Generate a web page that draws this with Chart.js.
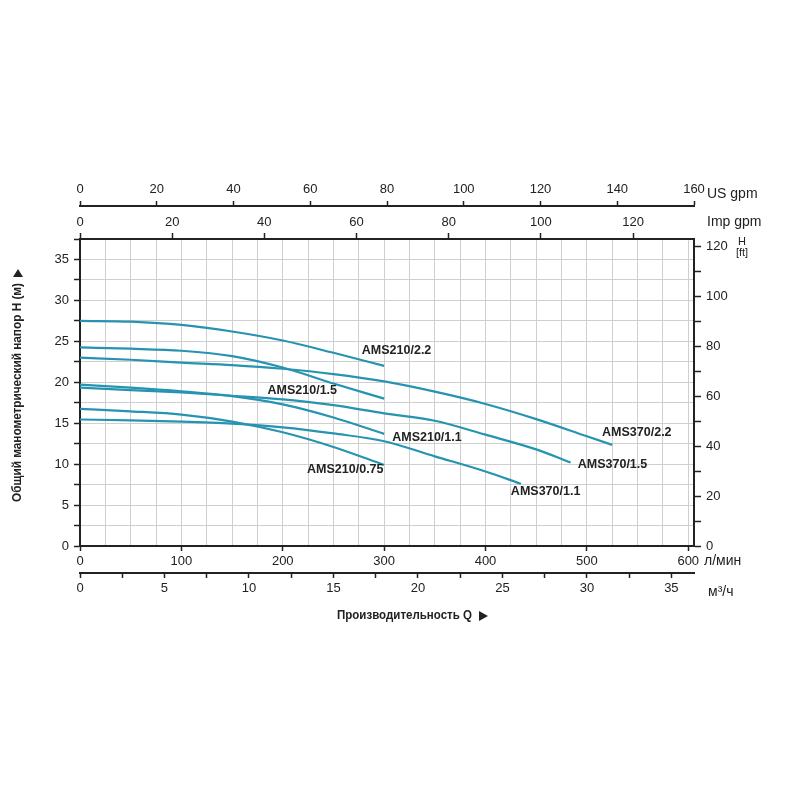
<!DOCTYPE html>
<html>
<head>
<meta charset="utf-8">
<script src="https://cdn.jsdelivr.net/npm/chart.js@4.4.0/dist/chart.umd.min.js"></script>
<style>
  body { margin: 0; background: #fff; }
</style>
</head>
<body>
<canvas id="chart" width="800" height="800"></canvas>
<script>
// pump curves: flow Q in l/min, head H in m
const q210 = [0, 50, 100, 150, 200, 250, 300];
const h210_22 = [27.5, 27.4, 27.0, 26.2, 25.1, 23.6, 22.0];
const h210_15 = [24.25, 24.1, 23.85, 23.2, 21.8, 19.85, 18.0];
const h210_11 = [19.7, 19.35, 18.9, 18.3, 17.3, 15.7, 13.7];
const h210_075 = [16.75, 16.45, 16.05, 15.2, 13.9, 12.1, 9.9];

const q370_22 = [0, 50, 100, 150, 200, 250, 300, 350, 400, 450, 500, 525];
const h370_22 = [23.0, 22.75, 22.4, 22.1, 21.65, 21.0, 20.1, 18.85, 17.35, 15.5, 13.4, 12.35];
const q370_15 = [0, 50, 100, 150, 200, 250, 300, 350, 400, 450, 484];
const h370_15 = [19.35, 19.05, 18.75, 18.35, 17.9, 17.2, 16.2, 15.3, 13.6, 11.8, 10.2];
const q370_11 = [0, 50, 100, 150, 200, 250, 300, 350, 400, 435];
const h370_11 = [15.45, 15.35, 15.2, 14.95, 14.5, 13.75, 12.8, 10.95, 9.1, 7.6];

const models = ['AMS210/2.2', 'AMS210/1.5', 'AMS210/1.1', 'AMS210/0.75', 'AMS370/2.2', 'AMS370/1.5', 'AMS370/1.1'];
const curves = [
  [q210, h210_22], [q210, h210_15], [q210, h210_11], [q210, h210_075],
  [q370_22, h370_22], [q370_15, h370_15], [q370_11, h370_11]
];

// axis ranges and unit conversions
const usMax = 160;
const LMIN_PER_M3H = 1000 / 60;
const LMIN_PER_USGPM = 3.78541;
const LMIN_PER_IMPGPM = 4.54609;
const FT_PER_M = 3.28084;
const qMax = usMax * LMIN_PER_USGPM;   // ~605.7 l/min
const hMax = 37.5;

const ink = '#222';
const gridGray = '#cfcfcf';
const lineBlue = 'rgb(38,148,177)';
const tickFont = { family: 'Liberation Sans, Arial, sans-serif', size: 13 };
const noTick = 'rgba(0,0,0,0)';

// where each model name is written, in l/min and m
const nameAt = [[278, 23.9], [185, 19.0], [308, 13.3], [224, 9.3], [515, 13.8], [491, 10.0], [425, 6.6]];

const datasets = curves.map((c, i) => ({
  label: models[i],
  data: c[0].map((q, j) => ({ x: q, y: c[1][j] })),
  borderColor: lineBlue,
  borderWidth: 2.2,
  pointRadius: 0,
  fill: false,
  cubicInterpolationMode: 'monotone',
  xAxisID: 'x',
  yAxisID: 'y'
}));

function every(step) {
  return v => (Math.abs(v / step - Math.round(v / step)) < 1e-6 ? String(Math.round(v)) : '');
}

// bold condensed-looking text: squeeze a normal bold face to the wanted length
function fitText(ctx, text, x, y, width) {
  ctx.save();
  ctx.font = 'bold 12px Liberation Sans, Arial, sans-serif';
  const k = width / ctx.measureText(text).width;
  ctx.translate(x, y);
  ctx.scale(k, 1);
  ctx.fillText(text, 0, 0);
  ctx.restore();
}

const textPlugin = {
  id: 'texts',
  afterDraw(chart) {
    const ctx = chart.ctx;
    const xs = chart.scales.x, ys = chart.scales.y;
    ctx.save();
    ctx.fillStyle = ink;

    // model names
    ctx.font = 'bold 12.5px Liberation Sans, Arial, sans-serif';
    ctx.textAlign = 'left';
    ctx.textBaseline = 'middle';
    models.forEach((m, i) => {
      ctx.fillText(m, xs.getPixelForValue(nameAt[i][0]), ys.getPixelForValue(nameAt[i][1]));
    });

    // unit labels at the axis ends
    ctx.font = '14px Liberation Sans, Arial, sans-serif';
    ctx.fillText('US gpm', 707, 194);
    ctx.fillText('Imp gpm', 707, 222);
    ctx.fillText('л/мин', 704, 561);
    ctx.fillText('м³/ч', 708, 592);
    ctx.font = '11px Liberation Sans, Arial, sans-serif';
    ctx.textAlign = 'center';
    ctx.fillText('H', 742, 242);
    ctx.fillText('[ft]', 742, 253);

    // bottom title
    ctx.textAlign = 'left';
    fitText(ctx, 'Производительность Q', 337, 616, 135);
    ctx.beginPath();
    ctx.moveTo(479, 611); ctx.lineTo(488, 616); ctx.lineTo(479, 621); ctx.closePath();
    ctx.fill();

    // left title, rotated
    ctx.translate(18, 502);
    ctx.rotate(-Math.PI / 2);
    fitText(ctx, 'Общий манометрический напор H (м)', 0, 0, 219);
    ctx.beginPath();
    ctx.moveTo(225, -5); ctx.lineTo(233, 0); ctx.lineTo(225, 5); ctx.closePath();
    ctx.fill();
    ctx.restore();
  }
};

new Chart(document.getElementById('chart'), {
  type: 'line',
  data: { datasets: datasets },
  plugins: [textPlugin],
  options: {
    responsive: false,
    animation: false,
    layout: { padding: 0 },
    plugins: { legend: { display: false }, tooltip: { enabled: false } },
    scales: {
      x: {
        type: 'linear', position: 'bottom', min: 0, max: qMax,
        afterFit: s => { s.height = 27; },
        ticks: { stepSize: 25, includeBounds: false, autoSkip: false, maxRotation: 0, padding: 3,
                 color: ink, font: tickFont, callback: every(100) },
        grid: { color: gridGray, lineWidth: 1, tickLength: 5, tickWidth: 1.5,
                tickColor: c => (c.tick && c.tick.value % 100 === 0 ? ink : noTick) },
        border: { color: ink, width: 2 }
      },
      m3h: {
        type: 'linear', position: 'bottom', min: 0, max: qMax / LMIN_PER_M3H,
        afterFit: s => { s.height = 227; },
        ticks: { stepSize: 2.5, includeBounds: false, autoSkip: false, maxRotation: 0, padding: 3,
                 color: ink, font: tickFont, callback: every(5) },
        grid: { drawOnChartArea: false, tickLength: 5, tickWidth: 1.5, tickColor: ink },
        border: { color: ink, width: 2 }
      },
      imp: {
        type: 'linear', position: 'top', min: 0, max: qMax / LMIN_PER_IMPGPM,
        afterFit: s => { s.height = 33; },
        ticks: { stepSize: 20, includeBounds: false, autoSkip: false, maxRotation: 0, padding: 3,
                 color: ink, font: tickFont, callback: every(20) },
        grid: { drawOnChartArea: false, tickLength: 6, tickWidth: 1.5, tickColor: ink },
        border: { color: ink, width: 2 }
      },
      usgpm: {
        type: 'linear', position: 'top', min: 0, max: usMax,
        afterFit: s => { s.height = 206; },
        ticks: { stepSize: 20, autoSkip: false, maxRotation: 0, padding: 4,
                 color: ink, font: tickFont, callback: every(20) },
        grid: { drawOnChartArea: false, tickLength: 5, tickWidth: 1.5, tickColor: ink },
        border: { color: ink, width: 2 }
      },
      y: {
        type: 'linear', position: 'left', min: 0, max: hMax,
        afterFit: s => { s.width = 80; },
        ticks: { stepSize: 2.5, includeBounds: false, autoSkip: false, padding: 5,
                 color: ink, font: tickFont, callback: every(5) },
        grid: { color: gridGray, lineWidth: 1, tickLength: 6, tickWidth: 1.5, tickColor: ink },
        border: { color: ink, width: 2 }
      },
      ft: {
        type: 'linear', position: 'right', min: 0, max: hMax * FT_PER_M,
        afterFit: s => { s.width = 106; },
        ticks: { stepSize: 10, includeBounds: false, autoSkip: false, padding: 5,
                 color: ink, font: tickFont, callback: every(20) },
        grid: { drawOnChartArea: false, tickLength: 7, tickWidth: 1.5, tickColor: ink },
        border: { color: ink, width: 2 }
      }
    }
  }
});
</script>
</body>
</html>
